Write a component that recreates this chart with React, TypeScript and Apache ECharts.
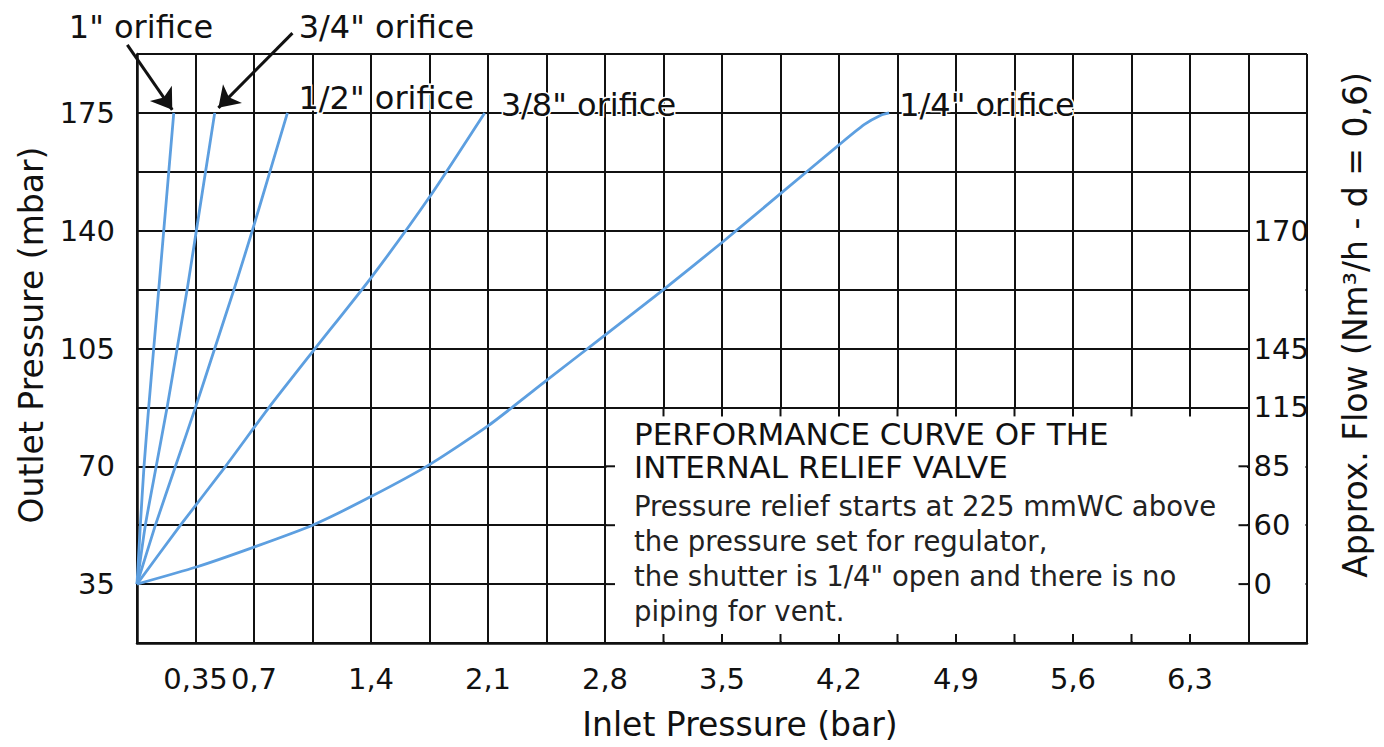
import React, { useEffect, useRef } from "react";
import * as echarts from "echarts";

// ---- data (inlet pressure in bar, outlet pressure in mbar) ----
const orificeNames = ['1" orifice', '3/4" orifice', '1/2" orifice', '3/8" orifice', '1/4" orifice'];
const curve1in: number[][] = [[0, 35], [0.02, 52.5], [0.042, 70], [0.07, 87.5], [0.1, 105], [0.13, 122.5], [0.16, 140], [0.19, 157.5], [0.22, 175]];
const curve34in: number[][] = [[0, 35], [0.05, 52.5], [0.115, 70], [0.18, 87.5], [0.24, 105], [0.3, 122.5], [0.355, 140], [0.41, 157.5], [0.465, 175]];
const curve12in: number[][] = [[0, 35], [0.11, 52.5], [0.23, 70], [0.35, 87.5], [0.465, 105], [0.58, 122.5], [0.69, 140], [0.795, 157.5], [0.9, 175]];
const curve38in: number[][] = [[0, 35], [0.26, 52.5], [0.53, 70], [0.79, 87.5], [1.05, 104], [1.4, 126], [1.75, 150], [2.08, 175]];
const curve14in: number[][] = [[0, 35], [0.35, 40], [0.7, 46], [1.05, 52.5], [1.4, 61], [1.75, 70.5], [2.1, 82], [2.45, 95.5], [2.8, 109], [3.15, 122.5], [3.5, 136.5], [3.85, 151], [4.2, 165.5], [4.35, 171.5], [4.45, 174.3], [4.5, 175]];
const curves = [curve1in, curve34in, curve12in, curve38in, curve14in];

// tick labels
const xLabelValues = [0.35, 0.7, 1.4, 2.1, 2.8, 3.5, 4.2, 4.9, 5.6, 6.3];
const yLabelValues = [35, 70, 105, 140, 175];
const flowAt = [35, 52.5, 70, 87.5, 105, 140];
const flowLabels = ["0", "60", "85", "115", "145", "170"];

// annotation arrows (data coords): tail -> head
const arrow1in = [[-0.058, 195.2], [0.211, 175.9]];
const arrow34in = [[0.93, 198.7], [0.487, 176.5]];

// blank (white) areas of the grid: [x0, x1, y0, y1, stubs]
const blankAreas = [[2.8, 6.65, 17.5, 87.5, 1], [6.65, 7.0, 17.5, 157.5, 0]];

const noteTitle = ["PERFORMANCE CURVE OF THE", "INTERNAL RELIEF VALVE"];
const noteBody = [
  "Pressure relief starts at 225 mmWC above",
  "the pressure set for regulator,",
  "the shutter is 1/4\" open and there is no",
  "piping for vent.",
];

const FONT = '"DejaVu Sans", "Liberation Sans", sans-serif';
const INK = "#111111";
const BLUE = "#5d9fe0";
const XMIN = 0, XMAX = 7, XSTEP = 0.35;
const YMIN = 17.5, YMAX = 192.5, YSTEP = 17.5;

const labelOffsets: number[][] = [[-105, -86], [84, -86], [11, -15], [16, -8], [10, -8]];

export default function App() {
  const ref = useRef<HTMLDivElement>(null);
  useEffect(() => {
    if (!ref.current) return;
    const chart = echarts.init(ref.current, null, { renderer: "svg" });
    const round = (v: number) => Math.round(v * 1000) / 1000;
    const xGrid: number[] = [];
    for (let v = XMIN; v <= XMAX + 1e-9; v += XSTEP) xGrid.push(round(v));
    const yGrid: number[] = [];
    for (let v = YMIN; v <= YMAX + 1e-9; v += YSTEP) yGrid.push(round(v));

    const lineSeries = curves.map((c, i) => ({
      type: "line",
      name: orificeNames[i],
      data: c,
      smooth: 0.2,
      showSymbol: false,
      symbol: "none",
      lineStyle: { color: BLUE, width: 2.8 },
      z: 4,
      endLabel: {
        show: true,
        formatter: orificeNames[i],
        color: INK,
        fontFamily: FONT,
        fontSize: 32,
        align: "left",
        verticalAlign: "middle",
        distance: 0,
        offset: labelOffsets[i],
        textBorderColor: "#fff",
        textBorderWidth: 3,
      },
    }));

    chart.setOption({
      animation: false,
      backgroundColor: "#ffffff",
      grid: { left: 137, right: 77, top: 54, bottom: 104, containLabel: false },
      xAxis: {
        type: "value",
        min: XMIN,
        max: XMAX,
        interval: XSTEP,
        axisLine: { show: true, onZero: false, lineStyle: { color: INK, width: 2.5 } },
        axisTick: { show: false },
        splitLine: { show: true, lineStyle: { color: INK, width: 2 } },
        axisLabel: {
          color: INK,
          fontFamily: FONT,
          fontSize: 29,
          margin: 21,
          showMinLabel: true,
          showMaxLabel: true,
          formatter: (v: number) => (xLabelValues.includes(round(v)) ? String(round(v)).replace(".", ",") : ""),
        },
      },
      yAxis: [
        {
          type: "value",
          min: YMIN,
          max: YMAX,
          interval: YSTEP,
          axisLine: { show: true, lineStyle: { color: INK, width: 2.5 } },
          axisTick: { show: false },
          splitLine: { show: true, lineStyle: { color: INK, width: 2 } },
          axisLabel: {
            color: INK,
            fontFamily: FONT,
            fontSize: 29,
            margin: 22,
            formatter: (v: number) => (yLabelValues.includes(round(v)) ? String(round(v)) : ""),
          },
        },
        {
          type: "value",
          position: "right",
          offset: -58.45,
          min: YMIN,
          max: YMAX,
          interval: YSTEP,
          z: 10,
          axisLine: { show: true, lineStyle: { color: INK, width: 2 } },
          axisTick: { show: false },
          splitLine: { show: false },
          axisLabel: {
            color: INK,
            fontFamily: FONT,
            fontSize: 29,
            margin: 5,
            formatter: (v: number) => {
              const k = flowAt.indexOf(round(v));
              return k >= 0 ? flowLabels[k] : "";
            },
          },
        },
      ],
      series: [
        {
          type: "custom",
          z: 3,
          silent: true,
          clip: false,
          data: blankAreas,
          encode: { x: [0, 1], y: [2, 3] },
          renderItem: (params: any, api: any) => {
            const x0 = api.value(0), x1 = api.value(1), y0 = api.value(2), y1 = api.value(3), stubs = api.value(4);
            const tl = api.coord([x0, y1]);
            const br = api.coord([x1, y0]);
            const children: any[] = [
              {
                type: "rect",
                shape: { x: tl[0] + 1.5, y: tl[1] + 1.5, width: br[0] - tl[0] - 3, height: br[1] - tl[1] - 3 },
                style: { fill: "#ffffff" },
              },
            ];
            if (stubs) {
              const ls = { stroke: INK, lineWidth: 2 };
              xGrid.filter((v) => v > x0 + 1e-6 && v < x1 - 1e-6).forEach((v) => {
                const px = api.coord([v, y0])[0];
                children.push({ type: "line", shape: { x1: px, y1: tl[1], x2: px, y2: tl[1] + 9 }, style: ls });
                children.push({ type: "line", shape: { x1: px, y1: br[1], x2: px, y2: br[1] - 9 }, style: ls });
              });
              yGrid.filter((v) => v > y0 + 1e-6 && v < y1 - 1e-6).forEach((v) => {
                const py = api.coord([x0, v])[1];
                children.push({ type: "line", shape: { x1: tl[0], y1: py, x2: tl[0] + 10, y2: py }, style: ls });
                children.push({ type: "line", shape: { x1: br[0], y1: py, x2: br[0] - 10, y2: py }, style: ls });
              });
            }
            return { type: "group", children };
          },
        },
        ...lineSeries,
        {
          type: "lines",
          coordinateSystem: "cartesian2d",
          clip: false,
          silent: true,
          z: 6,
          symbol: ["none", "arrow"],
          symbolSize: [0, 20],
          lineStyle: { color: INK, width: 3, opacity: 1 },
          data: [{ coords: arrow1in }, { coords: arrow34in }],
        },
      ],
      graphic: [
        {
          type: "text",
          x: 740,
          y: 724,
          style: { text: "Inlet Pressure (bar)", fontFamily: FONT, fontSize: 33, fill: INK, align: "center", verticalAlign: "middle" },
        },
        {
          type: "text",
          x: 31,
          y: 335,
          rotation: Math.PI / 2,
          style: { text: "Outlet Pressure (mbar)", fontFamily: FONT, fontSize: 33, fill: INK, align: "center", verticalAlign: "middle" },
        },
        {
          type: "text",
          x: 1355,
          y: 325,
          rotation: Math.PI / 2,
          style: { text: "Approx. Flow (Nm³/h - d = 0,6)", fontFamily: FONT, fontSize: 33, fill: INK, align: "center", verticalAlign: "middle" },
        },
        ...noteTitle.map((t, i) => ({
          type: "text",
          x: 634,
          y: 434 + i * 32.5,
          z: 20,
          style: { text: t, fontFamily: FONT, fontSize: 31, lineHeight: 31, fill: INK, align: "left", verticalAlign: "middle" },
        })),
        ...noteBody.map((t, i) => ({
          type: "text",
          x: 634,
          y: 506 + i * 35,
          z: 20,
          style: { text: t, fontFamily: FONT, fontSize: 27.5, fill: "#222", align: "left", verticalAlign: "middle" },
        })),
      ],
    });
    return () => chart.dispose();
  }, []);
  return <div ref={ref} style={{ position: "absolute", left: 0, top: 0, width: 1384, height: 747 }} />;
}
